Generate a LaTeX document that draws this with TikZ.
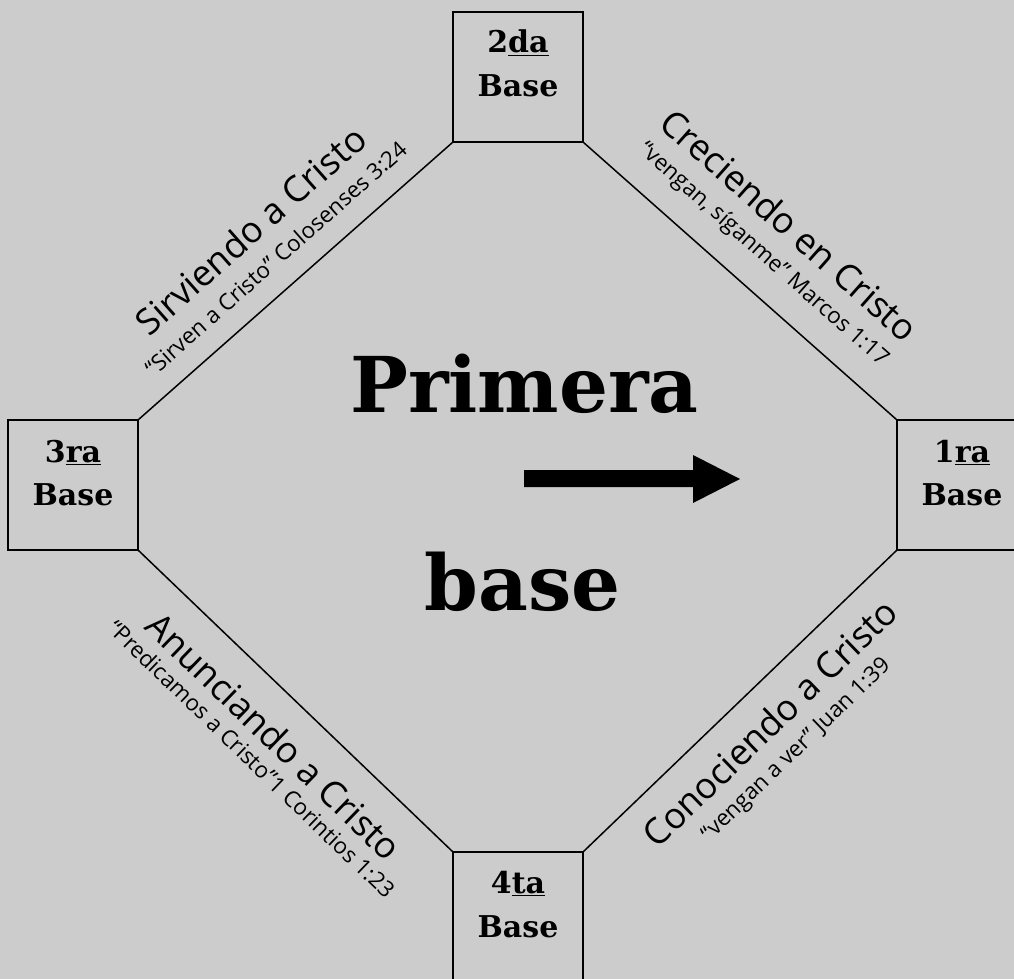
\documentclass[tikz,border=0pt]{standalone}
\usepackage{fontspec}
\setmainfont{DejaVu Serif}
\newfontfamily\hand{Open Sans}
\usetikzlibrary{calc}
\definecolor{bg}{HTML}{CCCCCC}
\begin{document}
\begin{tikzpicture}[x=1pt,y=-1pt,
  basebox/.style={draw=black, line width=2pt, minimum width=130pt, minimum height=130pt, inner sep=0pt, outer sep=0pt, anchor=north west},
  blabel/.style={font=\bfseries\fontsize{30}{36}\selectfont, anchor=base, inner sep=0pt},
  side/.style={line width=1.5pt},
  ttl/.style={font=\hand\fontsize{36}{42}\selectfont, inner sep=0pt},
  subt/.style={font=\hand\fontsize{22.5}{26}\selectfont, inner sep=0pt},
  big/.style={font=\bfseries\fontsize{77}{90}\selectfont, anchor=base, inner sep=0pt}]
\fill[bg] (0,0) rectangle (1014,979);
\useasboundingbox (0,0) rectangle (1014,979);
\clip (0,0) rectangle (1014,979);
% boxes
\node[basebox] (b2) at (453,12) {};
\node[basebox] (b3) at (8,420) {};
\node[basebox] (b1) at (897,420) {};
\node[basebox] (b4) at (453,852) {};
% box labels
\node[blabel] (l2a) at ($(b2.north)+(0,41)$) {2\underline{da}};
\node[blabel] (l2b) at ($(b2.north)+(0,85)$) {Base};
\node[blabel] (l3a) at ($(b3.north)+(0,42)$) {3\underline{ra}};
\node[blabel] (l3b) at ($(b3.north)+(0,85)$) {Base};
\node[blabel] (l1a) at ($(b1.north)+(0,42)$) {1\underline{ra}};
\node[blabel] (l1b) at ($(b1.north)+(0,85)$) {Base};
\node[blabel] (l4a) at ($(b4.north)+(0,41)$) {4\underline{ta}};
\node[blabel] (l4b) at ($(b4.north)+(0,85)$) {Base};
% connectors
\draw[side] (b2.south west) -- (b3.north east);
\draw[side] (b2.south east) -- (b1.north west);
\draw[side] (b3.south east) -- (b4.north west);
\draw[side] (b1.south west) -- (b4.north east);
% midpoints
\coordinate (mTL) at ($(b2.south west)!0.5!(b3.north east)$);
\coordinate (mTR) at ($(b2.south east)!0.5!(b1.north west)$);
\coordinate (mBL) at ($(b3.south east)!0.52!(b4.north west)$);
\coordinate (mBR) at ($(b4.north east)!0.515!(b1.south west)$);
% side texts
\node[ttl, rotate=41.5] (tTL) at ($(mTL)!68pt!-90:(b3.north east)$) {Sirviendo a Cristo};
\node[subt, rotate=41.5] (sTL) at ($(mTL)!30pt!-90:(b3.north east)$) {“Sirven a Cristo” Colosenses 3:24};
\node[ttl, rotate=-41.5] (tTR) at ($(mTR)!75pt!90:(b1.north west)$) {Creciendo en Cristo};
\node[subt, rotate=-41.5] (sTR) at ($(mTR)!35pt!90:(b1.north west)$) {“vengan, síganme” Marcos 1:17};
\node[ttl, rotate=-44] (tBL) at ($(mBL)!40pt!-90:(b4.north west)$) {Anunciando a Cristo};
\node[subt, rotate=-44] (sBL) at ($(mBL)!72pt!-90:(b4.north west)$) {“Predicamos a Cristo”1 Corintios 1:23};
\node[ttl, rotate=44] (tBR) at ($(mBR)!36pt!90:(b4.north east)$) {Conociendo a Cristo};
\node[subt, rotate=44] (sBR) at ($(mBR)!75pt!90:(b4.north east)$) {“vengan a ver” Juan 1:39};
% centre
\node[big] (p1) at (524.5,412) {Primera};
\node[big] (p2) at (522.5,610) {base};
\fill (524,470) -- (693,470) -- (693,455) -- (740,479) -- (693,503) -- (693,487) -- (524,487) -- cycle;
\end{tikzpicture}
\end{document}
